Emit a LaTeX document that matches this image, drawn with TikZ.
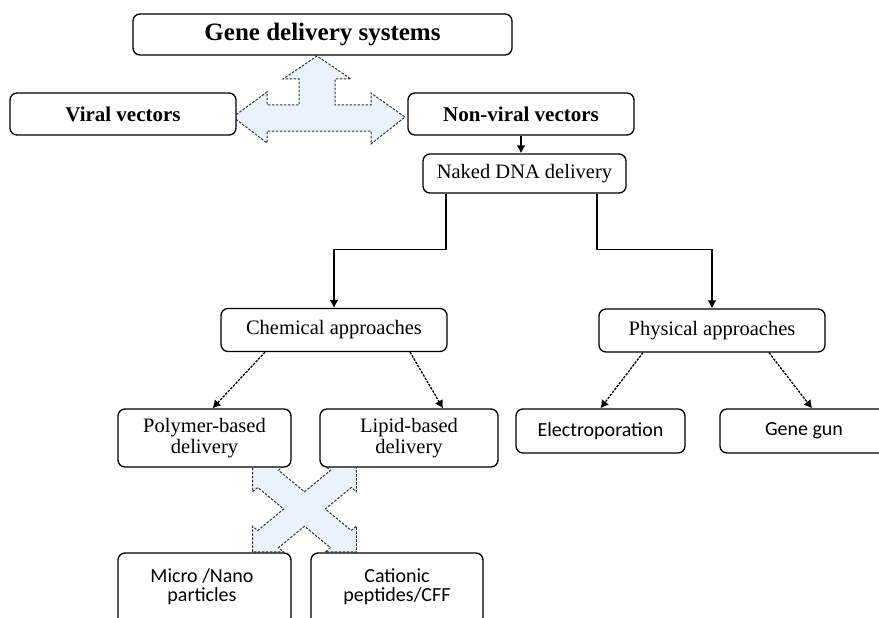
\documentclass[tikz,border=0pt]{standalone}
\usepackage{fontspec}
\setmainfont{Liberation Serif}
\newfontfamily\calibrifont{Carlito}
\usetikzlibrary{arrows.meta}
\definecolor{arrowfill}{RGB}{234,243,251}

\begin{document}
\begin{tikzpicture}[x=1pt,y=-1pt,
  box/.style={draw=black, fill=white, line width=1.3pt, rounded corners=7pt,
    inner sep=0pt, align=center},
  headbox/.style={box, font=\fontsize{25}{27}\selectfont\bfseries},
  mainbox/.style={box, font=\fontsize{21}{23}\selectfont\bfseries},
  serifbox/.style={box, font=\fontsize{20.5}{21}\selectfont},
  sansbox/.style={box, font=\fontsize{20}{19}\selectfont\calibrifont},
  sanstext/.style={inner sep=0pt, align=center, font=\fontsize{20}{19}\selectfont\calibrifont},
  conn/.style={line width=1.4pt, -{Latex[length=8pt,width=9pt]}},
  dashconn/.style={line width=1.3pt, dash pattern=on 2.5pt off 1.2pt,
    -{Latex[length=8pt,width=9pt]}},
  blockarrow/.style={fill=arrowfill, draw=black!80, line width=1pt,
    dash pattern=on 2.5pt off 1.5pt, line join=miter}]

% canvas: fixed extent, content clipped to it
\path[use as bounding box, clip] (0,0) rectangle (879,618);
\fill[white] (0,0) rectangle (879,618);

% four-way diagonal arrow between the delivery carriers
\begin{scope}[shift={(304.5,509)}, xscale=73.5, yscale=60.8, rotate=45]
  \path[blockarrow] (1,0) -- (0.7,0.3) -- (0.7,0.2) -- (0.2,0.2) -- (0.2,0.7)
    -- (0.3,0.7) -- (0,1) -- (-0.3,0.7) -- (-0.2,0.7) -- (-0.2,0.2)
    -- (-0.7,0.2) -- (-0.7,0.3) -- (-1,0) -- (-0.7,-0.3) -- (-0.7,-0.2)
    -- (-0.2,-0.2) -- (-0.2,-0.7) -- (-0.3,-0.7) -- (0,-1) -- (0.3,-0.7)
    -- (0.2,-0.7) -- (0.2,-0.2) -- (0.7,-0.2) -- (0.7,-0.3) -- cycle;
\end{scope}

% three-way arrow below the title
\path[blockarrow] (233,117) -- (267,92) -- (267,105) -- (299,105) -- (299,79)
  -- (283,79) -- (317,56) -- (351,79) -- (335,79) -- (335,105) -- (371,105)
  -- (371,93) -- (405,117) -- (371,144) -- (371,131) -- (267,131)
  -- (267,143) -- cycle;

% boxes
\node[headbox, minimum width=379pt, minimum height=41pt] (gds) at (322.5,34.5)
  {Gene delivery systems};
\node[mainbox, minimum width=226pt, minimum height=42pt] (viral) at (123,114)
  {Viral vectors};
\node[mainbox, minimum width=226pt, minimum height=42pt] (nonviral) at (521,114)
  {Non-viral vectors};
\node[serifbox, minimum width=203pt, minimum height=39pt] (naked) at (524.5,173.5)
  {Naked DNA delivery};
\node[serifbox, minimum width=226pt, minimum height=43pt] (chem) at (334,330)
  {Chemical approaches};
\node[serifbox, minimum width=226pt, minimum height=43pt] (phys) at (712,330.5)
  {Physical approaches};
\node[serifbox, minimum width=173pt, minimum height=58pt] (poly) at (204.5,438)
  {Polymer-based\\delivery};
\node[serifbox, minimum width=178pt, minimum height=58pt] (lipid) at (409,438)
  {Lipid-based\\delivery};
\node[sansbox, minimum width=169pt, minimum height=44pt] (electro) at (600.5,431)
  {Electroporation};

% boxes running past the edge of the page, with their texts set apart
\node[box, minimum width=240pt, minimum height=44pt] (genegun) at (840,431) {};
\node[sanstext] (genegunlabel) at (804,431) {Gene gun};
\node[box, minimum width=173pt, minimum height=100pt] (micro) at (204.5,603) {};
\node[sanstext] (microlabel) at (202,586.5) {Micro /Nano\\particles};
\node[box, minimum width=172pt, minimum height=100pt] (cationic) at (397,603) {};
\node[sanstext] (cationiclabel) at (397,586.5) {Cationic\\peptides/CFF};

% connectors
\draw[conn] (nonviral.south) -- (nonviral.south |- naked.north);
\draw[conn] ([xshift=-78.5pt]naked.south) -- ++(0,56) -| (chem.north);
\draw[conn] ([xshift=72.5pt]naked.south) -- ++(0,56) -| (phys.north);
\draw[dashconn] ([xshift=-69pt]chem.south) -- ([xshift=8pt]poly.north);
\draw[dashconn] ([xshift=76pt]chem.south) -- ([xshift=34pt]lipid.north);
\draw[dashconn] ([xshift=-69pt]phys.south) -- (electro.north);
\draw[dashconn] ([xshift=57pt]phys.south) -- ([xshift=-28pt]genegun.north);
\end{tikzpicture}
\end{document}
